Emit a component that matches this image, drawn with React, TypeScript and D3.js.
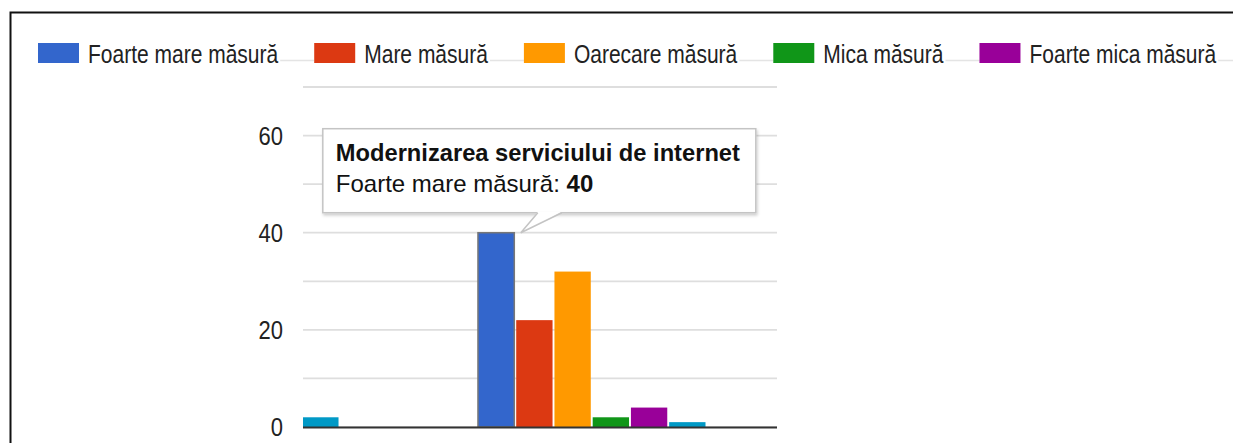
import React, { useEffect, useRef } from "react";
import * as d3 from "d3";

// ---- data ----
const categories = ["Categoria precedentă", "Modernizarea serviciului de internet"];
const seriesNames = [
  "Foarte mare măsură",
  "Mare măsură",
  "Oarecare măsură",
  "Mica măsură",
  "Foarte mica măsură",
  "Deloc",
];
const seriesColors = ["#3366cc", "#dc3912", "#ff9900", "#109618", "#990099", "#0099c6"];
// one value per category (previous category is mostly scrolled out of view)
const foarteMare: (number | null)[] = [null, 40];
const mare: (number | null)[] = [null, 22];
const oarecare: (number | null)[] = [null, 32];
const mica: (number | null)[] = [null, 2];
const foarteMica: (number | null)[] = [null, 4];
const deloc: (number | null)[] = [2, 1];
const seriesValues = [foarteMare, mare, oarecare, mica, foarteMica, deloc];
const yTickLabels = [0, 20, 40, 60];
const yGridValues = [0, 10, 20, 30, 40, 50, 60, 70];
const hovered = { category: 1, series: 0 };

const W = 1233;
const H = 443;

export default function App() {
  const ref = useRef<SVGSVGElement | null>(null);

  useEffect(() => {
    const svg = d3.select(ref.current);
    svg.selectAll("*").remove();
    const font = "'Liberation Sans', Arial, sans-serif";

    const plot = { left: 303, right: 777, top: 87, bottom: 427 };
    const y = d3.scaleLinear().domain([0, 70]).range([plot.bottom, plot.top]);
    const x0 = d3.scaleBand<string>().domain(categories).range([111, 705.5]).paddingInner(0.38).paddingOuter(0);
    const x1 = d3.scaleBand<string>().domain(seriesNames).range([0, x0.bandwidth()]).paddingInner(0.05);

    svg.append("rect").attr("width", W).attr("height", H).attr("fill", "#fff");

    // frame
    svg.append("path").attr("d", `M10.5,${H} V12.5 H${W}`).attr("fill", "none").attr("stroke", "#111").attr("stroke-width", 2);

    const defs = svg.append("defs");
    defs.append("clipPath").attr("id", "plotClip").append("rect")
      .attr("x", plot.left).attr("y", 0).attr("width", plot.right - plot.left).attr("height", plot.bottom + 1);
    const f = defs.append("filter").attr("id", "shadow").attr("x", "-10%").attr("y", "-10%").attr("width", "130%").attr("height", "140%");
    f.append("feDropShadow").attr("dx", 1).attr("dy", 2).attr("stdDeviation", 1.5).attr("flood-color", "#000").attr("flood-opacity", 0.2);

    // legend (items that would run past the right edge are scrolled out of view)
    const lg = svg.append("g");
    lg.append("line").attr("x1", 38).attr("x2", W).attr("y1", 60.5).attr("y2", 60.5).attr("stroke", "#e4e4e4").attr("stroke-width", 1.5);
    let lx = 38;
    seriesNames.forEach((name, i) => {
      const g = lg.append("g");
      const bg = g.append("rect").attr("fill", "#fff");
      const sw = g.append("rect").attr("x", lx).attr("y", 43).attr("width", 41).attr("height", 20).attr("fill", seriesColors[i]);
      const t = g.append("text")
        .attr("transform", `translate(${lx + 50},63) scale(1,1.19)`)
        .attr("font-family", font).attr("font-size", 21).attr("fill", "#222")
        .text(name);
      const tw = (t.node() as SVGTextElement).getComputedTextLength();
      if (lx + 50 + tw > W) {
        g.remove();
        return;
      }
      bg.attr("x", lx).attr("y", 40).attr("width", 50 + tw + 2).attr("height", 26);
      lx = lx + 50 + tw + 36;
      void sw;
    });

    // gridlines
    svg.append("g").selectAll("line").data(yGridValues).join("line")
      .attr("x1", plot.left).attr("x2", plot.right)
      .attr("y1", (d) => y(d)).attr("y2", (d) => y(d))
      .attr("stroke", "#dedede").attr("stroke-width", 1.8);

    // y labels
    svg.append("g").selectAll("text").data(yTickLabels).join("text")
      .attr("transform", (d) => `translate(283,${y(d) + 9}) scale(1,1.15)`)
      .attr("text-anchor", "end")
      .attr("font-family", font).attr("font-size", 22).attr("fill", "#222")
      .text((d) => String(d));

    // bars
    const bars: { c: number; s: number; v: number }[] = [];
    categories.forEach((_, c) => seriesValues.forEach((vals, s) => {
      const v = vals[c];
      if (v !== null && v !== undefined) bars.push({ c, s, v });
    }));
    svg.append("g").attr("clip-path", "url(#plotClip)").selectAll("rect").data(bars).join("rect")
      .attr("x", (d) => x0(categories[d.c])! + x1(seriesNames[d.s])!)
      .attr("y", (d) => y(d.v))
      .attr("width", x1.bandwidth())
      .attr("height", (d) => y(0) - y(d.v))
      .attr("fill", (d) => seriesColors[d.s])
      .attr("stroke", (d) => (d.c === hovered.category && d.s === hovered.series ? "#777" : "none"))
      .attr("stroke-width", 1.5);

    // baseline
    svg.append("line").attr("x1", plot.left).attr("x2", plot.right)
      .attr("y1", y(0) + 0.5).attr("y2", y(0) + 0.5)
      .attr("stroke", "#333").attr("stroke-width", 2);

    // tooltip
    const hv = seriesValues[hovered.series][hovered.category] as number;
    const tipX = x0(categories[hovered.category])! + x1(seriesNames[hovered.series])! + x1.bandwidth() + 6.5;
    const tipY = y(hv);
    const bx = tipX - 198, bw = 433, by = tipY - 104, bh = 84;
    const tg = svg.append("g");
    tg.append("rect").attr("x", bx).attr("y", by).attr("width", bw).attr("height", bh)
      .attr("fill", "#fff").attr("stroke", "#c4c4c4").attr("stroke-width", 1.5).attr("filter", "url(#shadow)");
    tg.append("path").attr("d", `M${tipX + 17},${by + bh - 1} L${tipX},${tipY} L${tipX + 41},${by + bh - 1} Z`).attr("fill", "#fff");
    tg.append("path").attr("d", `M${tipX + 17},${by + bh} L${tipX},${tipY} L${tipX + 41},${by + bh}`)
      .attr("fill", "none").attr("stroke", "#c4c4c4").attr("stroke-width", 1.5);
    tg.append("text").attr("x", bx + 13).attr("y", by + 32)
      .attr("font-family", font).attr("font-size", 23.7).attr("font-weight", "bold").attr("fill", "#111")
      .text(categories[hovered.category]);
    const l2 = tg.append("text").attr("x", bx + 13).attr("y", by + 63)
      .attr("font-family", font).attr("font-size", 24).attr("fill", "#111");
    l2.append("tspan").text(`${seriesNames[hovered.series]}: `);
    l2.append("tspan").attr("font-weight", "bold").text(String(hv));
  }, []);

  return (
    <svg
      ref={ref}
      width={W}
      height={H}
      style={{ position: "absolute", left: 0, top: 0, display: "block" }}
    />
  );
}
